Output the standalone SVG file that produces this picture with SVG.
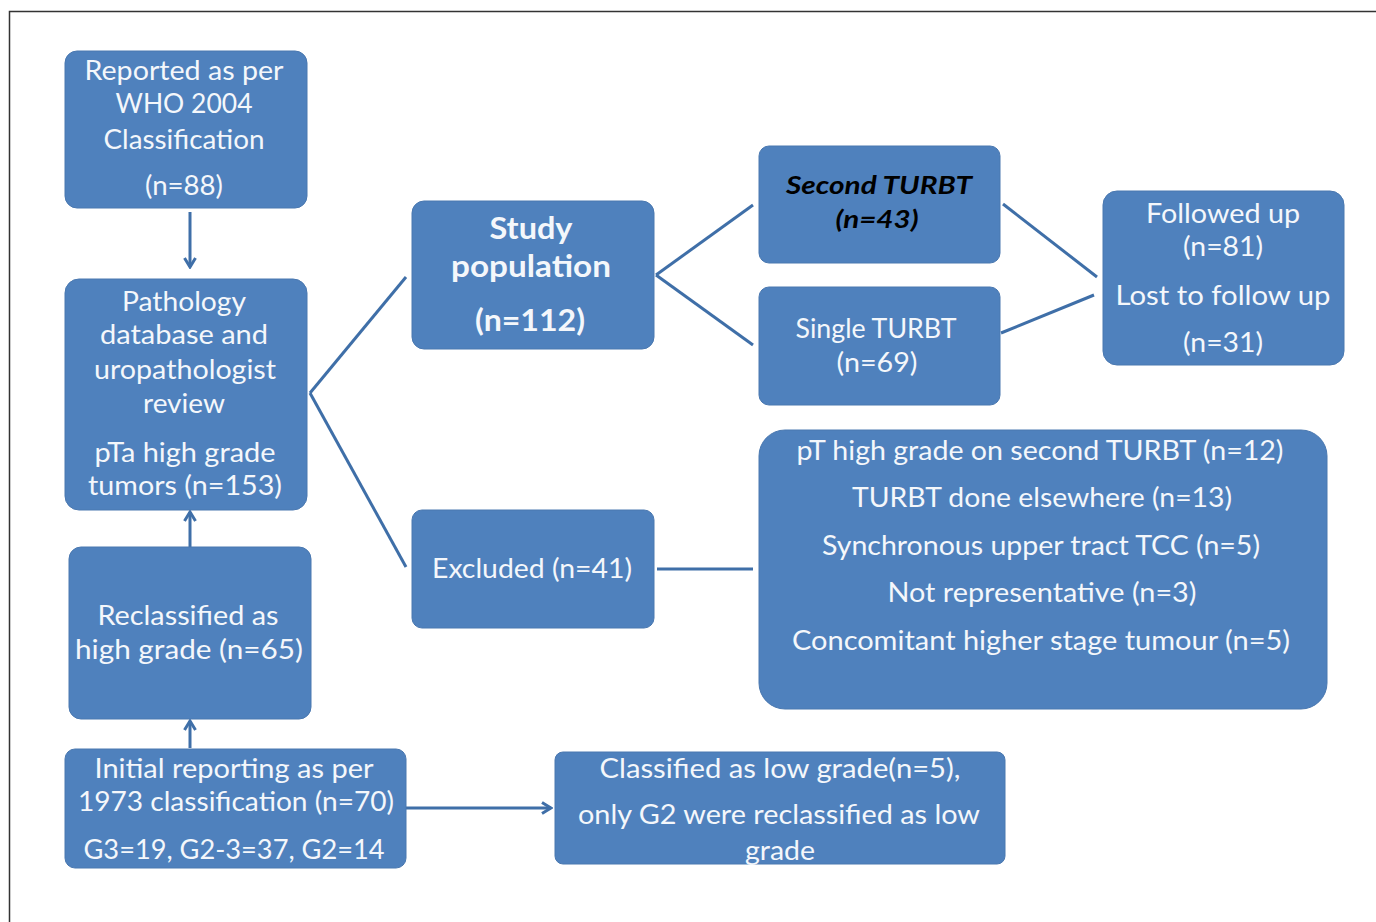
<svg xmlns="http://www.w3.org/2000/svg" width="1376" height="922" viewBox="0 0 1376 922">
<style>
.box{fill:#4f81bd;stroke:#4a78b0;stroke-width:1}
.t{font-family:Lato,"Open Sans","Liberation Sans",sans-serif;font-size:26px;fill:#f4f7fb;text-anchor:middle}
.b{font-weight:bold;font-size:30px}
.bi{font-weight:bold;font-style:italic;fill:#000;font-size:25px}
.c{stroke:#3f6fa8;stroke-width:3;fill:none}
</style>
<defs>
<marker id="ah" viewBox="0 0 14 14" refX="12" refY="7" markerWidth="14" markerHeight="14" markerUnits="userSpaceOnUse" orient="auto">
<path d="M3,1.5 L12,7 L3,12.5" fill="none" stroke="#3f6fa8" stroke-width="3"/>
</marker>
</defs>
<rect width="1376" height="922" fill="#fff"/>
<path d="M9.5,922 V11.5 H1376" fill="none" stroke="#333" stroke-width="1.5"/>
<g id="connectors">
<line class="c" x1="190" y1="212" x2="190" y2="267" marker-end="url(#ah)"/>
<line class="c" x1="190" y1="547" x2="190" y2="512" marker-end="url(#ah)"/>
<line class="c" x1="190" y1="748" x2="190" y2="721" marker-end="url(#ah)"/>
<line class="c" x1="406" y1="808" x2="551" y2="808" marker-end="url(#ah)"/>
<line class="c" x1="310" y1="393" x2="406" y2="277"/>
<line class="c" x1="310" y1="393" x2="406" y2="567"/>
<line class="c" x1="656" y1="275" x2="753" y2="205"/>
<line class="c" x1="656" y1="275" x2="753" y2="345"/>
<line class="c" x1="1003" y1="204" x2="1097" y2="277"/>
<line class="c" x1="1001" y1="333" x2="1094" y2="295"/>
<line class="c" x1="657" y1="569" x2="753" y2="569" stroke-width="4"/>
</g>
<g id="reported">
<rect class="box" x="65" y="51" width="242" height="157" rx="12"/>
<text class="t" x="184" y="80" textLength="199" lengthAdjust="spacingAndGlyphs">Reported as per</text>
<text class="t" x="184" y="113" textLength="137" lengthAdjust="spacingAndGlyphs">WHO 2004</text>
<text class="t" x="184" y="149" textLength="161" lengthAdjust="spacingAndGlyphs">Classification</text>
<text class="t" x="184" y="195" textLength="78" lengthAdjust="spacingAndGlyphs">(n=88)</text>
</g>
<g id="pathology">
<rect class="box" x="65" y="279" width="242" height="231" rx="14"/>
<text class="t" x="184" y="311" textLength="124" lengthAdjust="spacingAndGlyphs">Pathology</text>
<text class="t" x="184" y="344" textLength="168" lengthAdjust="spacingAndGlyphs">database and</text>
<text class="t" x="185" y="379" textLength="182" lengthAdjust="spacingAndGlyphs">uropathologist</text>
<text class="t" x="184" y="413" textLength="82" lengthAdjust="spacingAndGlyphs">review</text>
<text class="t" x="185" y="462" textLength="181" lengthAdjust="spacingAndGlyphs">pTa high grade</text>
<text class="t" x="185" y="495" textLength="194" lengthAdjust="spacingAndGlyphs">tumors (n=153)</text>
</g>
<g id="reclassified">
<rect class="box" x="69" y="547" width="242" height="172" rx="12"/>
<text class="t" x="188" y="625" textLength="181" lengthAdjust="spacingAndGlyphs">Reclassified  as</text>
<text class="t" x="189" y="659" textLength="228" lengthAdjust="spacingAndGlyphs">high grade  (n=65)</text>
</g>
<g id="initial">
<rect class="box" x="65" y="749" width="341" height="119" rx="10"/>
<text class="t" x="234" y="778" textLength="279" lengthAdjust="spacingAndGlyphs">Initial reporting  as per</text>
<text class="t" x="236" y="811" textLength="316" lengthAdjust="spacingAndGlyphs">1973 classification (n=70)</text>
<text class="t" x="234" y="859" textLength="301" lengthAdjust="spacingAndGlyphs">G3=19, G2-3=37, G2=14</text>
</g>
<g id="study">
<rect class="box" x="412" y="201" width="242" height="148" rx="12"/>
<text class="t b" x="531" y="239" textLength="83" lengthAdjust="spacingAndGlyphs">Study</text>
<text class="t b" x="531" y="277" textLength="160" lengthAdjust="spacingAndGlyphs">population</text>
<text class="t b" x="530" y="331" textLength="110" lengthAdjust="spacingAndGlyphs">(n=112)</text>
</g>
<g id="excluded">
<rect class="box" x="412" y="510" width="242" height="118" rx="10"/>
<text class="t" x="532" y="578" textLength="200" lengthAdjust="spacingAndGlyphs">Excluded (n=41)</text>
</g>
<g id="second">
<rect class="box" x="759" y="146" width="241" height="117" rx="10"/>
<text class="t bi" x="879" y="194" textLength="186" lengthAdjust="spacingAndGlyphs">Second TURBT</text>
<text class="t bi" x="877" y="228" textLength="83" lengthAdjust="spacingAndGlyphs">(n=43)</text>
</g>
<g id="single">
<rect class="box" x="759" y="287" width="241" height="118" rx="10"/>
<text class="t" x="876" y="338" textLength="161" lengthAdjust="spacingAndGlyphs">Single TURBT</text>
<text class="t" x="877" y="372" textLength="81" lengthAdjust="spacingAndGlyphs">(n=69)</text>
</g>
<g id="followed">
<rect class="box" x="1103" y="191" width="241" height="174" rx="14"/>
<text class="t" x="1223" y="223" textLength="154" lengthAdjust="spacingAndGlyphs">Followed up</text>
<text class="t" x="1223" y="256" textLength="80" lengthAdjust="spacingAndGlyphs">(n=81)</text>
<text class="t" x="1223" y="305" textLength="215" lengthAdjust="spacingAndGlyphs">Lost to follow  up</text>
<text class="t" x="1223" y="352" textLength="80" lengthAdjust="spacingAndGlyphs">(n=31)</text>
</g>
<g id="excluded-reasons">
<rect class="box" x="759" y="430" width="568" height="279" rx="26"/>
<text class="t" x="1040" y="460" textLength="487" lengthAdjust="spacingAndGlyphs">pT high grade on second TURBT (n=12)</text>
<text class="t" x="1042" y="507" textLength="380" lengthAdjust="spacingAndGlyphs">TURBT done elsewhere (n=13)</text>
<text class="t" x="1041" y="555" textLength="438" lengthAdjust="spacingAndGlyphs">Synchronous upper tract TCC (n=5)</text>
<text class="t" x="1042" y="602" textLength="309" lengthAdjust="spacingAndGlyphs">Not representative (n=3)</text>
<text class="t" x="1041" y="650" textLength="498" lengthAdjust="spacingAndGlyphs">Concomitant higher stage tumour (n=5)</text>
</g>
<g id="classified">
<rect class="box" x="555" y="752" width="450" height="112" rx="8"/>
<text class="t" x="780" y="778" textLength="361" lengthAdjust="spacingAndGlyphs">Classified  as  low grade(n=5),</text>
<text class="t" x="779" y="824" textLength="402" lengthAdjust="spacingAndGlyphs">only G2 were reclassified  as low</text>
<text class="t" x="780" y="860" textLength="70" lengthAdjust="spacingAndGlyphs">grade</text>
</g>
</svg>
